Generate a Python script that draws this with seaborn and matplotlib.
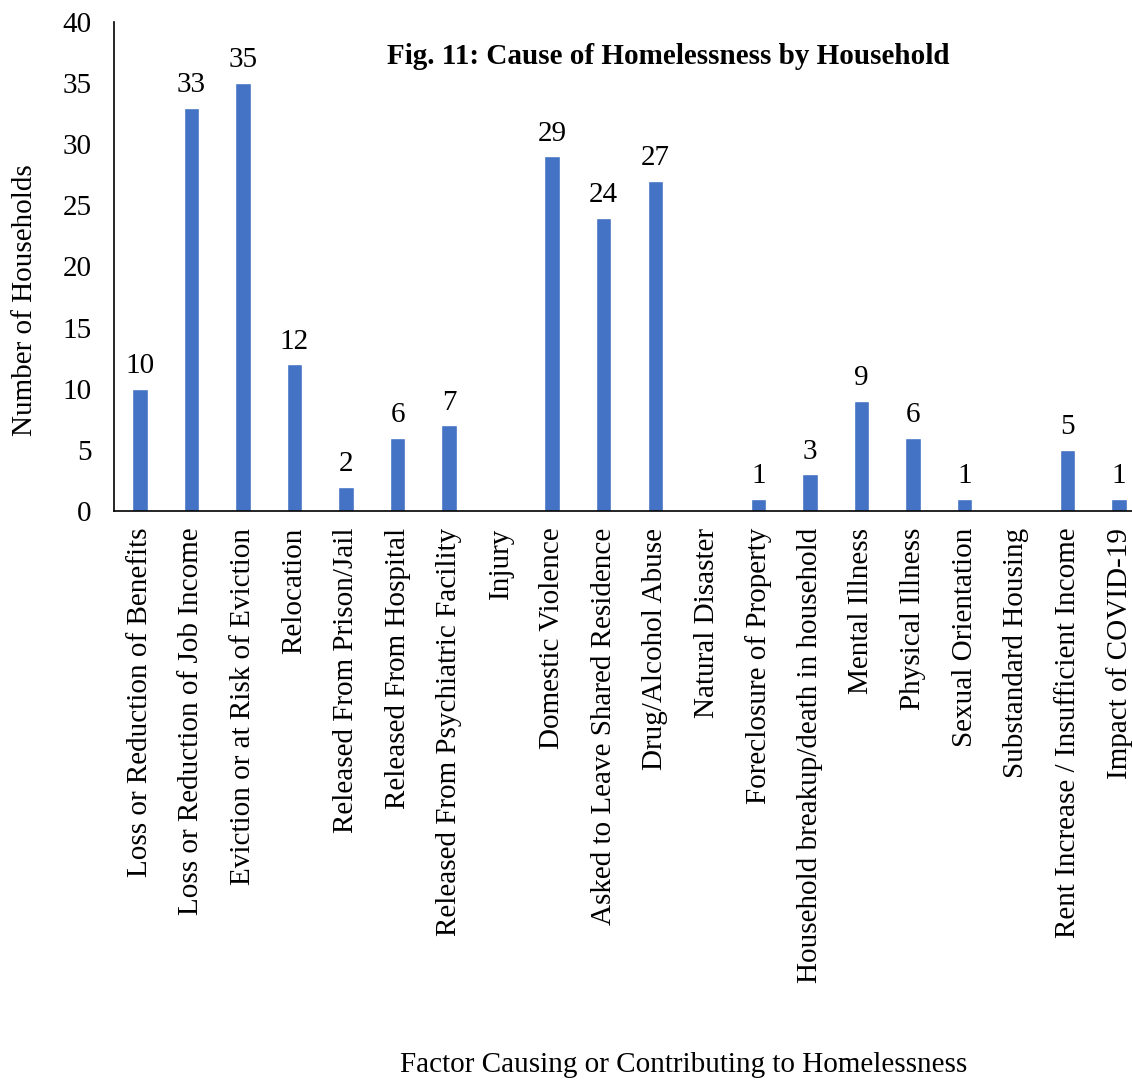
import pandas as pd
import matplotlib
matplotlib.use('Agg')
import matplotlib.pyplot as plt
import seaborn as sns

# data
causes = ['Loss or Reduction of Benefits', 'Loss or Reduction of Job Income',
          'Eviction or at Risk of Eviction', 'Relocation', 'Released From Prison/Jail',
          'Released From Hospital', 'Released From Psychiatric Facility', 'Injury',
          'Domestic Violence', 'Asked to Leave Shared Residence', 'Drug/Alcohol Abuse',
          'Natural Disaster', 'Foreclosure of Property', 'Household breakup/death in household',
          'Mental Illness', 'Physical Illness', 'Sexual Orientation', 'Substandard Housing',
          'Rent Increase / Insufficient Income', 'Impact of COVID-19']
households = [10, 33, 35, 12, 2, 6, 7, 0, 29, 24, 27, 0, 1, 3, 9, 6, 1, 0, 5, 1]

df = pd.DataFrame({'cause': causes, 'households': households})

sns.set_style('white')
plt.rcParams['font.family'] = ['Liberation Serif', 'DejaVu Serif']
plt.rcParams['text.color'] = 'black'

W, H = 1132, 1080
fig = plt.figure(figsize=(W / 100, H / 100), dpi=100)
ax = fig.add_axes([114 / W, (H - 511) / H, (1145 - 114) / W, (511 - 22) / H])

sns.barplot(data=df, x='cause', y='households', color='#4472C4', width=0.3,
            saturation=1, ax=ax)

ax.set_ylim(0, 40)
ax.set_yticks(range(0, 41, 5))
ax.set_xlim(-0.5, len(causes) - 0.5)
ax.tick_params(axis='both', length=0, labelsize=21, colors='black')
ax.tick_params(axis='y', pad=16)
ax.tick_params(axis='x', pad=12)
plt.setp(ax.get_xticklabels(), rotation=90, fontsize=21)
ax.set_xlabel('')
ax.set_ylabel('')

for side in ['top', 'right']:
    ax.spines[side].set_visible(False)
for side in ['left', 'bottom']:
    ax.spines[side].set_color('black')
    ax.spines[side].set_linewidth(1.2)

# value labels, zeros left blank
ax.bar_label(ax.containers[0], labels=[str(v) if v > 0 else '' for v in households],
             padding=7, fontsize=21, color='black')

ax.text(0.538, 0.93, 'Fig. 11: Cause of Homelessness by Household', transform=ax.transAxes,
        ha='center', va='center', fontsize=21, fontweight='bold', color='black')

fig.text(25 / W, 1 - 300 / H, 'Number of Households', rotation=90,
         ha='center', va='center', fontsize=21, color='black')
fig.text(684 / W, 1 - 1065 / H, 'Factor Causing or Contributing to Homelessness',
         ha='center', va='center', fontsize=21, color='black')

fig.savefig('out.png', dpi=100)
